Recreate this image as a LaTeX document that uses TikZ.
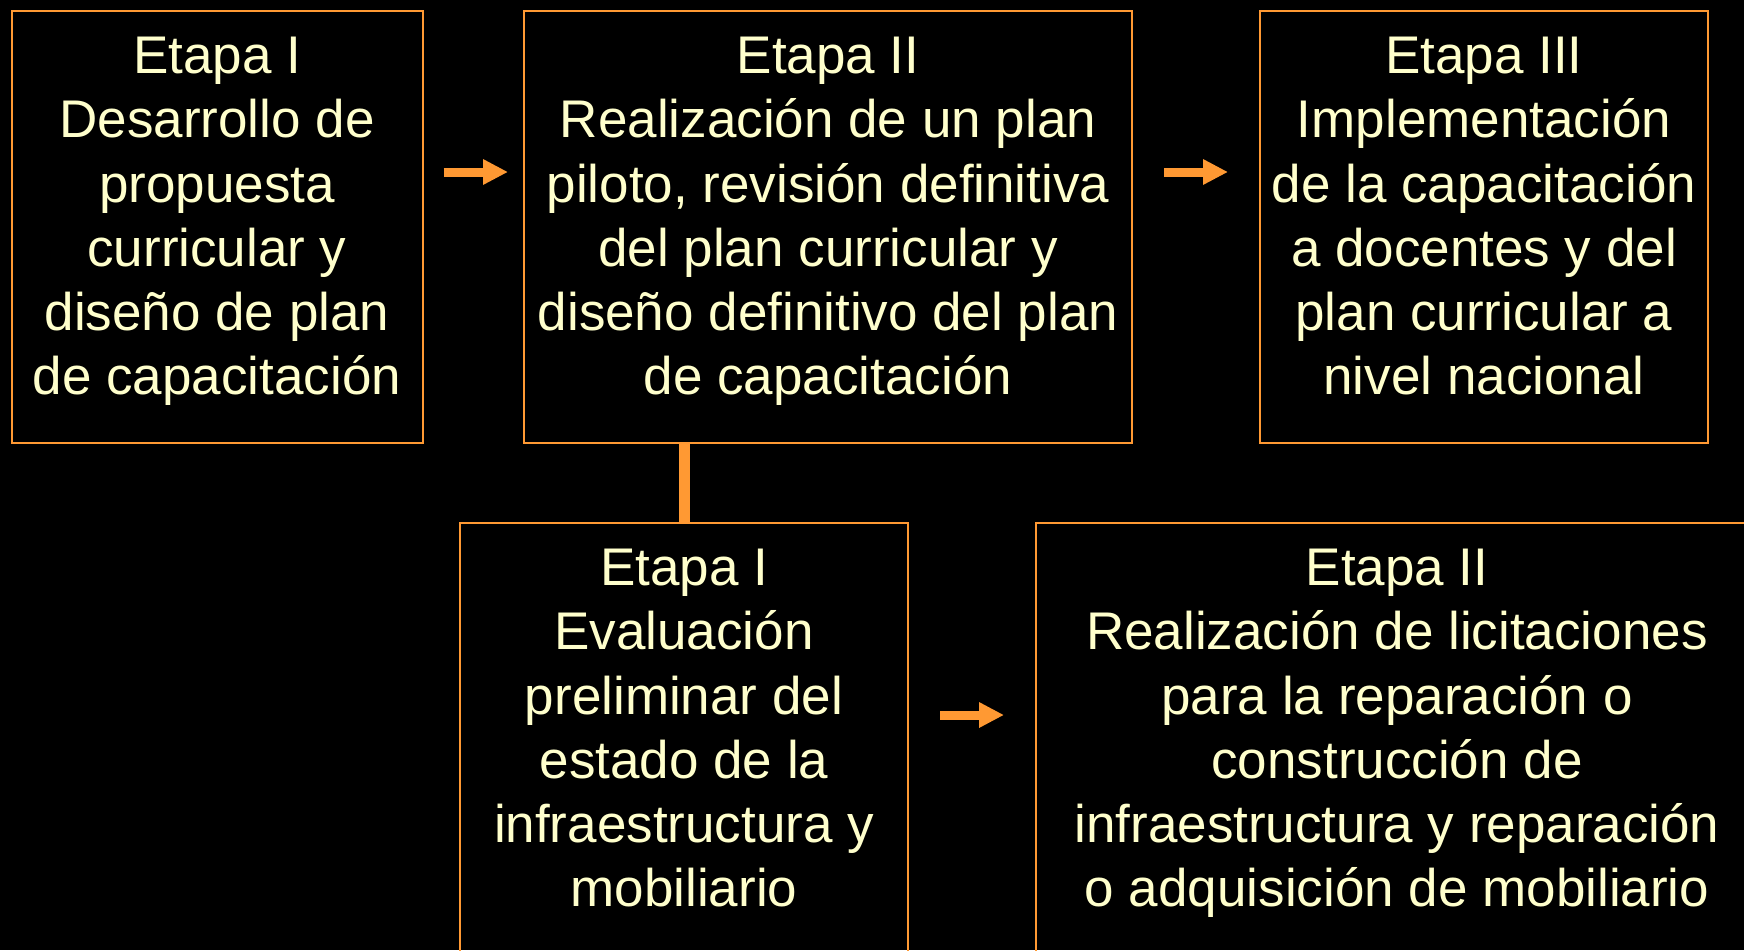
\documentclass[tikz,border=0pt]{standalone}
\usepackage{fontspec}
\setmainfont{Liberation Sans}
\usetikzlibrary{arrows.meta}
\definecolor{etapaorange}{RGB}{255,153,51}
\definecolor{etapatext}{RGB}{255,255,204}

\begin{document}
\begin{tikzpicture}[x=1pt,y=-1pt,
        etapa/.style={draw=etapaorange, line width=2pt, align=center, text=etapatext,
            font=\fontsize{53}{64.3}\selectfont, inner sep=0pt, minimum height=432pt,
            execute at begin node={\rule{0pt}{45pt}},
            execute at end node={\rule[-22pt]{0pt}{0pt}}},
        flecha/.style={etapaorange, line width=9pt, -{Triangle[length=25pt,width=24pt]}},
        enlace/.style={etapaorange, line width=11pt}]
    \useasboundingbox (0,0) rectangle (1744,950);
    \fill[black] (0,0) rectangle (1744,950);
    \clip (0,0) rectangle (1744,950);

    \node[etapa, minimum width=411pt] (cap1) at (217,227)
        {Etapa I\\Desarrollo de\\propuesta\\curricular y\\diseño de plan\\de capacitación};
    \node[etapa, minimum width=608pt] (cap2) at (828,227)
        {Etapa II\\Realización de un plan\\piloto, revisión definitiva\\del plan curricular y\\diseño definitivo del plan\\de capacitación};
    \node[etapa, minimum width=448pt] (cap3) at (1484,227)
        {Etapa III\\Implementación\\de la capacitación\\a docentes y del\\plan curricular a\\nivel nacional};
    \node[etapa, minimum width=448pt] (inf1) at (684,739)
        {Etapa I\\Evaluación\\preliminar del\\estado de la\\infraestructura y\\mobiliario};
    \node[etapa, minimum width=722pt] (inf2) at (1397,739)
        {Etapa II\\Realización de licitaciones\\para la reparación o\\construcción de\\infraestructura y reparación\\o adquisición de mobiliario};

    \draw[flecha, shorten <=20pt, shorten >=15pt] ([yshift=55pt]cap1.east) -- ([yshift=55pt]cap2.west);
    \draw[flecha, shorten <=31pt, shorten >=31pt] ([yshift=55pt]cap2.east) -- ([yshift=55pt]cap3.west);
    \draw[flecha, shorten <=31pt, shorten >=31pt] ([yshift=24pt]inf1.east) -- ([yshift=24pt]inf2.west);
    \draw[enlace] (inf1.north |- cap2.south) -- (inf1.north);
\end{tikzpicture}
\end{document}
